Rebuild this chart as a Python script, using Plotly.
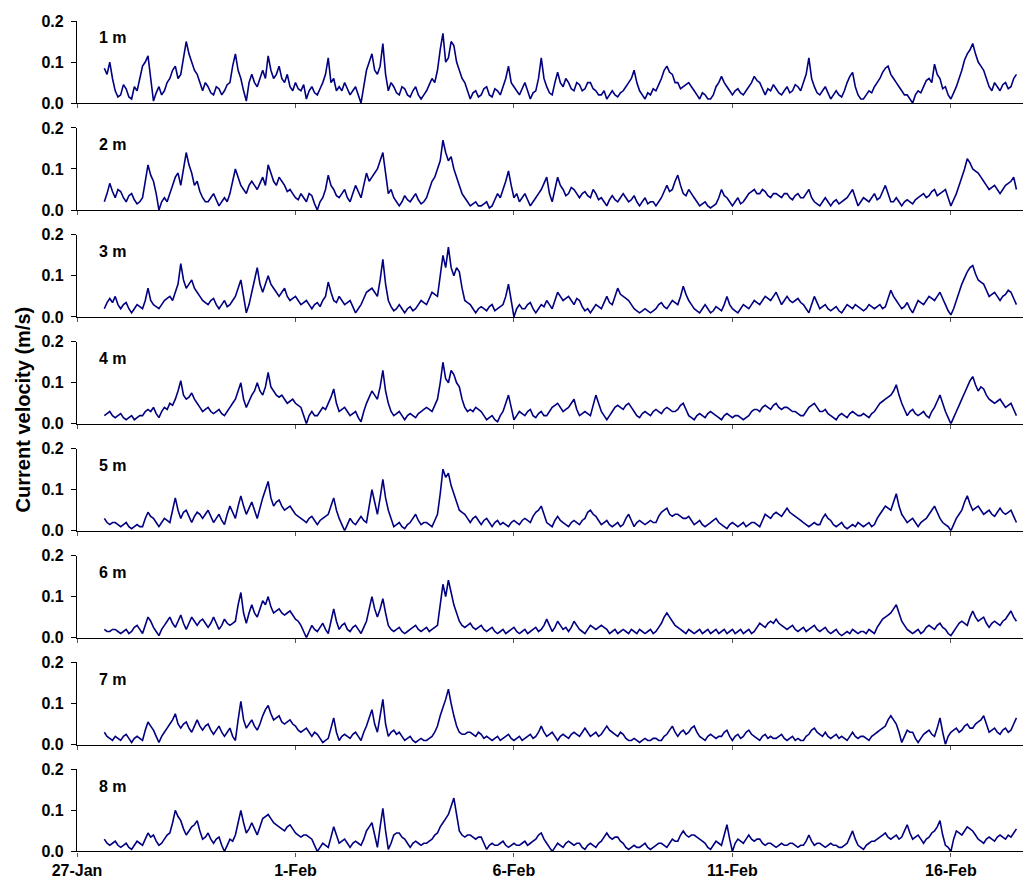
import pandas as pd
import plotly.graph_objects as go

# ---------------- data (readings every 1.5 h, m/s) ----------------
start_time = "2008-01-27 15:00"
step = "90min"
depth_labels = ["1 m", "2 m", "3 m", "4 m", "5 m", "6 m", "7 m", "8 m"]

depth_1m = [
    0.085, 0.07, 0.10, 0.06, 0.03, 0.015,
    0.02, 0.045, 0.035, 0.015, 0.01, 0.04, 0.03, 0.06, 0.09, 0.10, 0.115, 0.06, 0.005, 0.025, 0.04, 0.02,
    0.03, 0.05, 0.06, 0.08, 0.09, 0.06, 0.07, 0.11, 0.15, 0.12, 0.10, 0.08, 0.07, 0.05, 0.03, 0.05,
    0.04, 0.025, 0.02, 0.04, 0.035, 0.02, 0.03, 0.045, 0.05, 0.09, 0.12, 0.08, 0.06, 0.03, 0.005, 0.05,
    0.07, 0.05, 0.04, 0.06, 0.08, 0.06, 0.115, 0.08, 0.06, 0.07, 0.09, 0.06, 0.05, 0.07, 0.04, 0.03,
    0.05, 0.035, 0.03, 0.045, 0.01, 0.03, 0.04, 0.025, 0.02, 0.035, 0.05, 0.07, 0.11, 0.05, 0.06, 0.03,
    0.04, 0.03, 0.05, 0.035, 0.02, 0.03, 0.04, 0.02, 0.0, 0.04, 0.08, 0.10, 0.12, 0.08, 0.07, 0.09,
    0.145, 0.07, 0.03, 0.05, 0.04, 0.025, 0.02, 0.04, 0.035, 0.02, 0.015, 0.03, 0.04, 0.02, 0.01, 0.02,
    0.03, 0.045, 0.06, 0.05, 0.08, 0.13, 0.17, 0.10, 0.11, 0.15, 0.14, 0.10, 0.08, 0.06, 0.05, 0.03,
    0.01, 0.025, 0.03, 0.015, 0.02, 0.035, 0.04, 0.02, 0.015, 0.035, 0.03, 0.02, 0.04, 0.06, 0.09, 0.05,
    0.04, 0.03, 0.02, 0.035, 0.05, 0.03, 0.01, 0.025, 0.03, 0.06, 0.11, 0.06, 0.04, 0.025, 0.02, 0.05,
    0.075, 0.05, 0.04, 0.06, 0.05, 0.035, 0.03, 0.05, 0.045, 0.03, 0.035, 0.05, 0.05, 0.035, 0.03, 0.02,
    0.02, 0.03, 0.01, 0.02, 0.03, 0.02, 0.015, 0.025, 0.03, 0.04, 0.05, 0.06, 0.08, 0.05, 0.03, 0.02,
    0.01, 0.025, 0.02, 0.035, 0.03, 0.045, 0.06, 0.08, 0.09, 0.075, 0.07, 0.05, 0.05, 0.035, 0.04, 0.045,
    0.05, 0.04, 0.03, 0.02, 0.01, 0.025, 0.02, 0.01, 0.01, 0.02, 0.04, 0.05, 0.065, 0.05, 0.04, 0.03,
    0.02, 0.03, 0.035, 0.025, 0.02, 0.03, 0.04, 0.05, 0.065, 0.055, 0.05, 0.035, 0.02, 0.035, 0.03, 0.045,
    0.035, 0.025, 0.02, 0.03, 0.04, 0.025, 0.03, 0.045, 0.04, 0.03, 0.05, 0.07, 0.11, 0.06, 0.04, 0.025,
    0.02, 0.03, 0.04, 0.025, 0.01, 0.02, 0.03, 0.02, 0.015, 0.03, 0.05, 0.065, 0.075, 0.04, 0.02, 0.01,
    0.01, 0.02, 0.03, 0.025, 0.04, 0.05, 0.06, 0.075, 0.085, 0.09, 0.07, 0.06, 0.05, 0.04, 0.03, 0.02,
    0.02, 0.01, 0.0, 0.02, 0.03, 0.025, 0.04, 0.055, 0.06, 0.05, 0.095, 0.07, 0.06, 0.035, 0.04, 0.02,
    0.01, 0.025, 0.04, 0.06, 0.08, 0.105, 0.12, 0.13, 0.145, 0.12, 0.10, 0.09, 0.08, 0.06, 0.04, 0.03,
    0.05, 0.04, 0.03, 0.045, 0.05, 0.035, 0.04, 0.06, 0.07,
]

depth_2m = [
    0.02, 0.04, 0.065, 0.045, 0.03, 0.05,
    0.045, 0.03, 0.02, 0.035, 0.04, 0.025, 0.015, 0.02, 0.03, 0.07, 0.11, 0.085, 0.07, 0.04, 0.0, 0.02,
    0.03, 0.02, 0.04, 0.06, 0.08, 0.09, 0.06, 0.10, 0.14, 0.11, 0.09, 0.06, 0.07, 0.045, 0.03, 0.02,
    0.02, 0.03, 0.04, 0.025, 0.01, 0.02, 0.03, 0.02, 0.04, 0.07, 0.10, 0.08, 0.06, 0.05, 0.04, 0.06,
    0.07, 0.06, 0.05, 0.065, 0.08, 0.06, 0.11, 0.09, 0.07, 0.06, 0.08, 0.07, 0.06, 0.045, 0.05, 0.04,
    0.03, 0.025, 0.04, 0.03, 0.02, 0.04, 0.035, 0.015, 0.0, 0.02, 0.03, 0.05, 0.085, 0.06, 0.05, 0.035,
    0.03, 0.04, 0.05, 0.03, 0.02, 0.04, 0.06, 0.045, 0.03, 0.06, 0.09, 0.07, 0.08, 0.09, 0.10, 0.12,
    0.14, 0.09, 0.04, 0.05, 0.03, 0.02, 0.01, 0.02, 0.035, 0.025, 0.02, 0.03, 0.04, 0.025, 0.015, 0.02,
    0.03, 0.05, 0.07, 0.08, 0.10, 0.12, 0.17, 0.14, 0.12, 0.13, 0.10, 0.08, 0.06, 0.04, 0.03, 0.02,
    0.01, 0.015, 0.02, 0.01, 0.01, 0.015, 0.02, 0.005, 0.01, 0.025, 0.04, 0.03, 0.05, 0.07, 0.095, 0.06,
    0.03, 0.04, 0.02, 0.03, 0.04, 0.025, 0.01, 0.02, 0.03, 0.04, 0.05, 0.065, 0.08, 0.04, 0.02, 0.05,
    0.08, 0.06, 0.05, 0.035, 0.04, 0.055, 0.05, 0.04, 0.03, 0.04, 0.045, 0.035, 0.03, 0.05, 0.04, 0.025,
    0.03, 0.02, 0.01, 0.025, 0.035, 0.025, 0.02, 0.03, 0.04, 0.03, 0.02, 0.025, 0.035, 0.02, 0.01, 0.02,
    0.03, 0.015, 0.02, 0.02, 0.01, 0.02, 0.03, 0.045, 0.06, 0.045, 0.05, 0.07, 0.085, 0.06, 0.04, 0.035,
    0.05, 0.04, 0.03, 0.02, 0.01, 0.015, 0.02, 0.01, 0.005, 0.01, 0.015, 0.03, 0.05, 0.035, 0.03, 0.02,
    0.01, 0.02, 0.03, 0.015, 0.02, 0.03, 0.04, 0.045, 0.05, 0.04, 0.04, 0.05, 0.045, 0.035, 0.03, 0.04,
    0.04, 0.035, 0.03, 0.04, 0.04, 0.03, 0.025, 0.035, 0.04, 0.03, 0.03, 0.04, 0.05, 0.03, 0.02, 0.015,
    0.01, 0.02, 0.03, 0.02, 0.01, 0.02, 0.025, 0.015, 0.02, 0.025, 0.03, 0.04, 0.05, 0.03, 0.01, 0.02,
    0.03, 0.025, 0.02, 0.03, 0.04, 0.025, 0.03, 0.045, 0.06, 0.04, 0.02, 0.02, 0.03, 0.02, 0.01, 0.02,
    0.025, 0.02, 0.015, 0.025, 0.03, 0.035, 0.04, 0.03, 0.035, 0.045, 0.05, 0.035, 0.04, 0.045, 0.05, 0.03,
    0.01, 0.025, 0.04, 0.06, 0.08, 0.10, 0.125, 0.115, 0.10, 0.095, 0.09, 0.08, 0.07, 0.06, 0.05, 0.055,
    0.06, 0.05, 0.04, 0.05, 0.06, 0.065, 0.07, 0.08, 0.05,
]

depth_3m = [
    0.02, 0.035, 0.045, 0.035, 0.05, 0.03,
    0.02, 0.03, 0.035, 0.02, 0.01, 0.02, 0.03, 0.025, 0.02, 0.04, 0.07, 0.04, 0.03, 0.025, 0.02, 0.03,
    0.04, 0.045, 0.05, 0.04, 0.06, 0.08, 0.13, 0.09, 0.07, 0.08, 0.09, 0.07, 0.06, 0.05, 0.04, 0.035,
    0.03, 0.04, 0.045, 0.03, 0.02, 0.03, 0.04, 0.025, 0.03, 0.04, 0.05, 0.07, 0.09, 0.05, 0.01, 0.03,
    0.06, 0.09, 0.12, 0.08, 0.06, 0.08, 0.10, 0.08, 0.07, 0.06, 0.05, 0.06, 0.07, 0.05, 0.04, 0.045,
    0.05, 0.04, 0.03, 0.035, 0.04, 0.03, 0.02, 0.03, 0.035, 0.025, 0.04, 0.05, 0.085, 0.06, 0.04, 0.035,
    0.05, 0.04, 0.03, 0.035, 0.04, 0.025, 0.01, 0.02, 0.03, 0.045, 0.06, 0.065, 0.07, 0.06, 0.05, 0.09,
    0.14, 0.08, 0.04, 0.025, 0.015, 0.02, 0.03, 0.02, 0.01, 0.02, 0.025, 0.015, 0.02, 0.03, 0.04, 0.035,
    0.03, 0.045, 0.06, 0.055, 0.05, 0.10, 0.15, 0.12, 0.17, 0.12, 0.10, 0.12, 0.11, 0.07, 0.04, 0.035,
    0.03, 0.02, 0.01, 0.02, 0.025, 0.02, 0.015, 0.025, 0.03, 0.015, 0.02, 0.025, 0.03, 0.05, 0.08, 0.04,
    0.0, 0.02, 0.03, 0.02, 0.02, 0.03, 0.035, 0.02, 0.01, 0.02, 0.03, 0.025, 0.04, 0.03, 0.02, 0.04,
    0.06, 0.05, 0.04, 0.045, 0.05, 0.04, 0.03, 0.045, 0.04, 0.025, 0.015, 0.02, 0.01, 0.02, 0.03, 0.025,
    0.02, 0.035, 0.05, 0.035, 0.03, 0.05, 0.07, 0.055, 0.05, 0.045, 0.04, 0.03, 0.02, 0.015, 0.01, 0.015,
    0.02, 0.015, 0.01, 0.015, 0.02, 0.03, 0.035, 0.025, 0.02, 0.03, 0.04, 0.035, 0.03, 0.05, 0.075, 0.055,
    0.04, 0.03, 0.02, 0.015, 0.01, 0.02, 0.03, 0.02, 0.01, 0.015, 0.025, 0.02, 0.015, 0.03, 0.05, 0.03,
    0.02, 0.015, 0.01, 0.02, 0.03, 0.025, 0.02, 0.03, 0.04, 0.035, 0.03, 0.04, 0.05, 0.045, 0.04, 0.05,
    0.06, 0.045, 0.03, 0.04, 0.05, 0.04, 0.035, 0.04, 0.045, 0.035, 0.03, 0.02, 0.01, 0.03, 0.05, 0.035,
    0.02, 0.025, 0.03, 0.02, 0.015, 0.02, 0.025, 0.015, 0.01, 0.02, 0.03, 0.025, 0.02, 0.03, 0.025, 0.02,
    0.015, 0.02, 0.03, 0.025, 0.02, 0.025, 0.03, 0.02, 0.025, 0.045, 0.065, 0.05, 0.04, 0.03, 0.02, 0.025,
    0.035, 0.02, 0.01, 0.025, 0.04, 0.035, 0.03, 0.04, 0.05, 0.045, 0.04, 0.05, 0.06, 0.045, 0.03, 0.015,
    0.005, 0.02, 0.04, 0.06, 0.08, 0.095, 0.11, 0.12, 0.125, 0.105, 0.09, 0.085, 0.08, 0.065, 0.05, 0.055,
    0.06, 0.05, 0.04, 0.05, 0.055, 0.065, 0.06, 0.045, 0.03,
]

depth_4m = [
    0.02, 0.025, 0.03, 0.02, 0.015, 0.02,
    0.025, 0.015, 0.01, 0.015, 0.02, 0.01, 0.015, 0.02, 0.02, 0.03, 0.035, 0.03, 0.04, 0.025, 0.015, 0.03,
    0.04, 0.035, 0.05, 0.045, 0.06, 0.08, 0.105, 0.07, 0.06, 0.065, 0.075, 0.06, 0.05, 0.04, 0.03, 0.035,
    0.04, 0.03, 0.025, 0.03, 0.035, 0.025, 0.02, 0.03, 0.04, 0.05, 0.06, 0.08, 0.10, 0.06, 0.04, 0.055,
    0.07, 0.08, 0.10, 0.08, 0.07, 0.09, 0.125, 0.09, 0.08, 0.07, 0.065, 0.07, 0.06, 0.05, 0.055, 0.06,
    0.05, 0.045, 0.04, 0.02, 0.0, 0.02, 0.03, 0.02, 0.02, 0.03, 0.04, 0.035, 0.05, 0.065, 0.085, 0.05,
    0.03, 0.035, 0.04, 0.03, 0.02, 0.025, 0.03, 0.015, 0.005, 0.03, 0.05, 0.065, 0.08, 0.07, 0.06, 0.09,
    0.13, 0.08, 0.05, 0.03, 0.02, 0.025, 0.03, 0.02, 0.01, 0.02, 0.025, 0.02, 0.015, 0.025, 0.03, 0.035,
    0.04, 0.035, 0.03, 0.045, 0.06, 0.10, 0.15, 0.11, 0.10, 0.13, 0.12, 0.10, 0.09, 0.06, 0.04, 0.03,
    0.035, 0.03, 0.04, 0.035, 0.03, 0.02, 0.01, 0.015, 0.02, 0.01, 0.005, 0.02, 0.03, 0.05, 0.07, 0.04,
    0.01, 0.02, 0.03, 0.025, 0.02, 0.03, 0.035, 0.02, 0.015, 0.025, 0.03, 0.02, 0.02, 0.03, 0.04, 0.045,
    0.05, 0.04, 0.03, 0.035, 0.04, 0.05, 0.06, 0.035, 0.02, 0.025, 0.03, 0.025, 0.02, 0.045, 0.07, 0.05,
    0.03, 0.02, 0.01, 0.02, 0.03, 0.04, 0.045, 0.04, 0.035, 0.045, 0.05, 0.04, 0.03, 0.02, 0.015, 0.025,
    0.03, 0.025, 0.02, 0.03, 0.035, 0.03, 0.025, 0.035, 0.04, 0.035, 0.03, 0.03, 0.035, 0.045, 0.05, 0.035,
    0.02, 0.015, 0.01, 0.02, 0.025, 0.02, 0.015, 0.025, 0.03, 0.025, 0.02, 0.015, 0.01, 0.02, 0.025, 0.02,
    0.015, 0.02, 0.02, 0.015, 0.01, 0.015, 0.02, 0.03, 0.035, 0.035, 0.03, 0.04, 0.045, 0.04, 0.035, 0.045,
    0.05, 0.04, 0.035, 0.04, 0.04, 0.035, 0.03, 0.03, 0.025, 0.02, 0.02, 0.03, 0.04, 0.045, 0.05, 0.04,
    0.03, 0.03, 0.035, 0.025, 0.02, 0.015, 0.01, 0.02, 0.025, 0.02, 0.015, 0.025, 0.03, 0.025, 0.02, 0.02,
    0.025, 0.02, 0.015, 0.025, 0.03, 0.04, 0.05, 0.055, 0.06, 0.065, 0.07, 0.08, 0.095, 0.07, 0.05, 0.035,
    0.02, 0.03, 0.035, 0.025, 0.02, 0.025, 0.03, 0.02, 0.015, 0.03, 0.04, 0.055, 0.07, 0.05, 0.03, 0.015,
    0.0, 0.015, 0.03, 0.045, 0.06, 0.075, 0.09, 0.105, 0.115, 0.095, 0.08, 0.09, 0.085, 0.07, 0.06, 0.055,
    0.05, 0.055, 0.06, 0.05, 0.04, 0.045, 0.05, 0.035, 0.02,
]

depth_5m = [
    0.03, 0.02, 0.015, 0.02, 0.02, 0.015,
    0.01, 0.015, 0.02, 0.01, 0.005, 0.01, 0.015, 0.01, 0.01, 0.03, 0.045, 0.035, 0.03, 0.02, 0.01, 0.02,
    0.03, 0.025, 0.02, 0.05, 0.08, 0.05, 0.03, 0.045, 0.05, 0.035, 0.02, 0.035, 0.045, 0.04, 0.03, 0.04,
    0.05, 0.035, 0.02, 0.03, 0.04, 0.025, 0.015, 0.04, 0.06, 0.045, 0.03, 0.06, 0.085, 0.06, 0.04, 0.055,
    0.07, 0.05, 0.03, 0.055, 0.08, 0.10, 0.12, 0.08, 0.06, 0.07, 0.075, 0.06, 0.05, 0.055, 0.06, 0.05,
    0.04, 0.035, 0.03, 0.025, 0.02, 0.03, 0.035, 0.025, 0.015, 0.025, 0.03, 0.035, 0.04, 0.06, 0.08, 0.05,
    0.03, 0.015, 0.0, 0.015, 0.03, 0.02, 0.015, 0.025, 0.035, 0.025, 0.02, 0.06, 0.10, 0.07, 0.04, 0.08,
    0.125, 0.08, 0.05, 0.03, 0.01, 0.015, 0.02, 0.01, 0.005, 0.015, 0.02, 0.03, 0.04, 0.025, 0.015, 0.02,
    0.02, 0.015, 0.01, 0.025, 0.04, 0.09, 0.15, 0.13, 0.14, 0.11, 0.09, 0.07, 0.05, 0.045, 0.04, 0.03,
    0.02, 0.03, 0.035, 0.025, 0.015, 0.025, 0.03, 0.02, 0.01, 0.02, 0.025, 0.015, 0.02, 0.015, 0.01, 0.02,
    0.025, 0.02, 0.015, 0.025, 0.03, 0.025, 0.02, 0.035, 0.045, 0.05, 0.06, 0.04, 0.02, 0.015, 0.01, 0.025,
    0.035, 0.025, 0.02, 0.015, 0.01, 0.02, 0.025, 0.02, 0.015, 0.025, 0.03, 0.045, 0.05, 0.04, 0.035, 0.025,
    0.015, 0.02, 0.025, 0.015, 0.01, 0.015, 0.02, 0.01, 0.015, 0.03, 0.04, 0.025, 0.01, 0.02, 0.025, 0.02,
    0.015, 0.02, 0.025, 0.02, 0.02, 0.035, 0.045, 0.05, 0.055, 0.04, 0.035, 0.04, 0.04, 0.035, 0.03, 0.03,
    0.035, 0.025, 0.015, 0.02, 0.025, 0.015, 0.01, 0.015, 0.02, 0.025, 0.03, 0.02, 0.015, 0.01, 0.005, 0.015,
    0.02, 0.015, 0.01, 0.015, 0.02, 0.01, 0.015, 0.02, 0.02, 0.015, 0.01, 0.025, 0.04, 0.035, 0.03, 0.04,
    0.045, 0.04, 0.035, 0.045, 0.055, 0.045, 0.04, 0.035, 0.03, 0.025, 0.02, 0.015, 0.01, 0.015, 0.02, 0.015,
    0.015, 0.03, 0.04, 0.03, 0.025, 0.015, 0.01, 0.015, 0.02, 0.01, 0.005, 0.01, 0.015, 0.01, 0.02, 0.015,
    0.01, 0.015, 0.02, 0.01, 0.015, 0.03, 0.04, 0.05, 0.06, 0.055, 0.05, 0.07, 0.09, 0.06, 0.04, 0.03,
    0.02, 0.025, 0.03, 0.02, 0.01, 0.02, 0.025, 0.03, 0.04, 0.05, 0.06, 0.045, 0.03, 0.02, 0.015, 0.01,
    0.0, 0.015, 0.03, 0.04, 0.05, 0.07, 0.085, 0.065, 0.05, 0.055, 0.06, 0.05, 0.04, 0.045, 0.05, 0.04,
    0.035, 0.045, 0.055, 0.045, 0.04, 0.045, 0.05, 0.035, 0.02,
]

depth_6m = [
    0.02, 0.015, 0.015, 0.02, 0.02, 0.015,
    0.01, 0.015, 0.02, 0.01, 0.015, 0.025, 0.03, 0.02, 0.01, 0.03, 0.05, 0.04, 0.025, 0.015, 0.005, 0.02,
    0.03, 0.04, 0.05, 0.035, 0.025, 0.04, 0.055, 0.035, 0.02, 0.035, 0.05, 0.04, 0.03, 0.04, 0.045, 0.035,
    0.025, 0.035, 0.05, 0.035, 0.02, 0.03, 0.045, 0.035, 0.03, 0.035, 0.04, 0.08, 0.11, 0.06, 0.035, 0.06,
    0.08, 0.06, 0.05, 0.07, 0.09, 0.08, 0.10, 0.075, 0.06, 0.065, 0.07, 0.06, 0.055, 0.06, 0.065, 0.055,
    0.045, 0.04, 0.03, 0.015, 0.0, 0.015, 0.03, 0.02, 0.015, 0.025, 0.035, 0.02, 0.01, 0.04, 0.07, 0.04,
    0.02, 0.03, 0.035, 0.02, 0.015, 0.025, 0.03, 0.02, 0.01, 0.025, 0.04, 0.07, 0.10, 0.07, 0.05, 0.07,
    0.095, 0.06, 0.03, 0.02, 0.015, 0.02, 0.025, 0.015, 0.01, 0.015, 0.02, 0.025, 0.03, 0.02, 0.015, 0.02,
    0.025, 0.015, 0.02, 0.025, 0.03, 0.08, 0.13, 0.10, 0.14, 0.11, 0.08, 0.06, 0.04, 0.03, 0.025, 0.03,
    0.035, 0.025, 0.02, 0.025, 0.03, 0.02, 0.015, 0.02, 0.025, 0.015, 0.01, 0.015, 0.02, 0.01, 0.015, 0.02,
    0.025, 0.015, 0.01, 0.015, 0.02, 0.01, 0.015, 0.02, 0.025, 0.015, 0.02, 0.03, 0.045, 0.03, 0.015, 0.025,
    0.04, 0.03, 0.02, 0.025, 0.015, 0.025, 0.04, 0.03, 0.02, 0.015, 0.01, 0.02, 0.03, 0.025, 0.02, 0.025,
    0.03, 0.025, 0.02, 0.01, 0.015, 0.02, 0.01, 0.015, 0.02, 0.015, 0.01, 0.02, 0.015, 0.01, 0.02, 0.015,
    0.01, 0.015, 0.02, 0.01, 0.015, 0.025, 0.035, 0.05, 0.06, 0.05, 0.04, 0.03, 0.025, 0.02, 0.015, 0.01,
    0.02, 0.015, 0.01, 0.015, 0.02, 0.01, 0.015, 0.02, 0.01, 0.015, 0.02, 0.01, 0.015, 0.02, 0.01, 0.015,
    0.02, 0.01, 0.015, 0.02, 0.01, 0.015, 0.02, 0.01, 0.015, 0.025, 0.035, 0.03, 0.025, 0.035, 0.04, 0.035,
    0.045, 0.035, 0.03, 0.025, 0.02, 0.025, 0.03, 0.02, 0.015, 0.02, 0.025, 0.015, 0.02, 0.025, 0.03, 0.02,
    0.015, 0.02, 0.025, 0.015, 0.01, 0.015, 0.02, 0.01, 0.005, 0.01, 0.015, 0.01, 0.02, 0.015, 0.01, 0.015,
    0.015, 0.01, 0.02, 0.015, 0.01, 0.025, 0.035, 0.045, 0.05, 0.055, 0.06, 0.07, 0.08, 0.06, 0.04, 0.03,
    0.02, 0.015, 0.01, 0.015, 0.02, 0.01, 0.015, 0.025, 0.03, 0.025, 0.02, 0.03, 0.035, 0.025, 0.02, 0.01,
    0.005, 0.015, 0.025, 0.035, 0.04, 0.035, 0.03, 0.05, 0.065, 0.05, 0.04, 0.045, 0.05, 0.035, 0.025, 0.035,
    0.04, 0.035, 0.03, 0.04, 0.045, 0.055, 0.065, 0.05, 0.04,
]

depth_7m = [
    0.03, 0.02, 0.015, 0.01, 0.02, 0.015,
    0.01, 0.02, 0.025, 0.015, 0.005, 0.015, 0.02, 0.015, 0.01, 0.035, 0.055, 0.045, 0.035, 0.02, 0.005, 0.02,
    0.03, 0.04, 0.05, 0.06, 0.075, 0.05, 0.04, 0.05, 0.055, 0.04, 0.03, 0.045, 0.06, 0.045, 0.035, 0.045,
    0.05, 0.035, 0.025, 0.035, 0.045, 0.03, 0.02, 0.03, 0.04, 0.02, 0.01, 0.06, 0.105, 0.06, 0.04, 0.05,
    0.06, 0.045, 0.035, 0.05, 0.07, 0.085, 0.095, 0.075, 0.06, 0.065, 0.07, 0.055, 0.05, 0.055, 0.06, 0.05,
    0.045, 0.035, 0.03, 0.035, 0.04, 0.03, 0.02, 0.03, 0.025, 0.015, 0.005, 0.01, 0.015, 0.04, 0.065, 0.03,
    0.01, 0.02, 0.025, 0.02, 0.015, 0.025, 0.03, 0.02, 0.01, 0.03, 0.045, 0.065, 0.085, 0.05, 0.03, 0.07,
    0.11, 0.05, 0.02, 0.03, 0.035, 0.025, 0.03, 0.02, 0.01, 0.015, 0.02, 0.01, 0.005, 0.01, 0.015, 0.01,
    0.01, 0.015, 0.02, 0.03, 0.045, 0.07, 0.09, 0.11, 0.135, 0.10, 0.07, 0.045, 0.03, 0.025, 0.025, 0.03,
    0.03, 0.025, 0.02, 0.03, 0.025, 0.015, 0.02, 0.015, 0.01, 0.015, 0.02, 0.01, 0.015, 0.02, 0.025, 0.015,
    0.01, 0.015, 0.02, 0.01, 0.015, 0.02, 0.025, 0.015, 0.02, 0.03, 0.045, 0.03, 0.02, 0.025, 0.03, 0.02,
    0.01, 0.02, 0.025, 0.02, 0.015, 0.025, 0.03, 0.025, 0.02, 0.03, 0.04, 0.03, 0.02, 0.025, 0.03, 0.02,
    0.025, 0.035, 0.045, 0.035, 0.03, 0.025, 0.02, 0.03, 0.025, 0.015, 0.01, 0.01, 0.015, 0.01, 0.005, 0.01,
    0.015, 0.01, 0.01, 0.015, 0.015, 0.01, 0.01, 0.02, 0.025, 0.035, 0.045, 0.03, 0.02, 0.03, 0.035, 0.025,
    0.03, 0.04, 0.045, 0.03, 0.02, 0.015, 0.01, 0.02, 0.025, 0.02, 0.015, 0.02, 0.02, 0.03, 0.035, 0.02,
    0.01, 0.02, 0.025, 0.015, 0.02, 0.03, 0.035, 0.025, 0.02, 0.015, 0.01, 0.02, 0.025, 0.015, 0.02, 0.015,
    0.015, 0.02, 0.025, 0.015, 0.01, 0.015, 0.02, 0.01, 0.015, 0.01, 0.01, 0.02, 0.025, 0.035, 0.04, 0.03,
    0.025, 0.02, 0.03, 0.02, 0.015, 0.02, 0.025, 0.015, 0.02, 0.015, 0.01, 0.02, 0.03, 0.02, 0.015, 0.02,
    0.02, 0.015, 0.01, 0.02, 0.025, 0.03, 0.035, 0.04, 0.045, 0.06, 0.07, 0.06, 0.05, 0.03, 0.005, 0.02,
    0.035, 0.03, 0.03, 0.015, 0.005, 0.015, 0.025, 0.03, 0.035, 0.025, 0.02, 0.04, 0.065, 0.03, 0.0, 0.02,
    0.03, 0.035, 0.04, 0.03, 0.035, 0.045, 0.05, 0.04, 0.04, 0.05, 0.055, 0.06, 0.07, 0.05, 0.03, 0.035,
    0.04, 0.03, 0.025, 0.035, 0.04, 0.03, 0.035, 0.05, 0.065,
]

depth_8m = [
    0.03, 0.02, 0.015, 0.02, 0.025, 0.015,
    0.01, 0.015, 0.02, 0.01, 0.005, 0.015, 0.025, 0.02, 0.015, 0.03, 0.045, 0.035, 0.04, 0.025, 0.015, 0.02,
    0.03, 0.04, 0.045, 0.07, 0.10, 0.085, 0.075, 0.055, 0.04, 0.05, 0.06, 0.065, 0.075, 0.05, 0.03, 0.035,
    0.045, 0.03, 0.02, 0.03, 0.035, 0.015, 0.0, 0.015, 0.03, 0.025, 0.04, 0.07, 0.10, 0.07, 0.045, 0.055,
    0.07, 0.055, 0.04, 0.06, 0.08, 0.085, 0.09, 0.08, 0.07, 0.065, 0.06, 0.055, 0.05, 0.06, 0.065, 0.055,
    0.045, 0.04, 0.035, 0.04, 0.04, 0.035, 0.03, 0.015, 0.0, 0.01, 0.02, 0.015, 0.01, 0.035, 0.06, 0.04,
    0.02, 0.025, 0.03, 0.02, 0.01, 0.02, 0.025, 0.02, 0.015, 0.03, 0.05, 0.06, 0.07, 0.04, 0.01, 0.06,
    0.105, 0.05, 0.005, 0.02, 0.04, 0.045, 0.045, 0.035, 0.03, 0.02, 0.01, 0.02, 0.025, 0.02, 0.015, 0.02,
    0.02, 0.025, 0.03, 0.04, 0.045, 0.06, 0.07, 0.08, 0.09, 0.11, 0.13, 0.09, 0.05, 0.04, 0.035, 0.04,
    0.04, 0.035, 0.03, 0.035, 0.035, 0.02, 0.005, 0.015, 0.02, 0.015, 0.015, 0.02, 0.025, 0.015, 0.01, 0.015,
    0.02, 0.015, 0.015, 0.02, 0.025, 0.015, 0.02, 0.025, 0.03, 0.04, 0.045, 0.03, 0.02, 0.01, 0.0, 0.01,
    0.02, 0.015, 0.01, 0.02, 0.025, 0.02, 0.015, 0.02, 0.02, 0.01, 0.005, 0.015, 0.02, 0.015, 0.01, 0.02,
    0.025, 0.035, 0.045, 0.035, 0.03, 0.035, 0.035, 0.025, 0.02, 0.01, 0.005, 0.01, 0.015, 0.01, 0.01, 0.015,
    0.02, 0.01, 0.005, 0.01, 0.015, 0.02, 0.02, 0.015, 0.01, 0.02, 0.03, 0.025, 0.025, 0.04, 0.05, 0.04,
    0.035, 0.04, 0.04, 0.035, 0.03, 0.025, 0.02, 0.01, 0.005, 0.015, 0.025, 0.02, 0.015, 0.04, 0.065, 0.03,
    0.0, 0.02, 0.03, 0.025, 0.02, 0.03, 0.04, 0.03, 0.025, 0.03, 0.03, 0.02, 0.015, 0.02, 0.02, 0.015,
    0.01, 0.015, 0.02, 0.015, 0.015, 0.02, 0.02, 0.015, 0.01, 0.015, 0.015, 0.025, 0.04, 0.025, 0.015, 0.02,
    0.02, 0.015, 0.01, 0.015, 0.02, 0.015, 0.015, 0.01, 0.01, 0.015, 0.02, 0.035, 0.05, 0.03, 0.015, 0.01,
    0.005, 0.015, 0.02, 0.025, 0.025, 0.03, 0.035, 0.04, 0.045, 0.035, 0.03, 0.035, 0.04, 0.03, 0.035, 0.05,
    0.065, 0.045, 0.03, 0.035, 0.04, 0.03, 0.02, 0.03, 0.035, 0.045, 0.05, 0.06, 0.075, 0.04, 0.015, 0.01,
    0.0, 0.03, 0.05, 0.045, 0.04, 0.05, 0.06, 0.055, 0.05, 0.04, 0.03, 0.025, 0.02, 0.03, 0.035, 0.03,
    0.025, 0.035, 0.04, 0.035, 0.03, 0.04, 0.035, 0.045, 0.055,
]

series = [depth_1m, depth_2m, depth_3m, depth_4m,
          depth_5m, depth_6m, depth_7m, depth_8m]

tick_dates = ["2008-01-27", "2008-02-01", "2008-02-06", "2008-02-11", "2008-02-16"]
tick_labels = ["27-Jan", "1-Feb", "6-Feb", "11-Feb", "16-Feb"]
y_ticks = [0.0, 0.1, 0.2]
y_tick_labels = ["0.0", "0.1", "0.2"]
y_title = "Current velocity (m/s)"

# ---------------- layout geometry ----------------
# the page has an 8px body margin, so the figure is sized/offset to compensate
OFF = 8
W, H = 1031 - OFF, 879 - OFF
M_L, M_R, M_T, M_B = 77 - OFF, 0, 21 - OFF, 15
plot_h = H - M_T - M_B
plot_w = W - M_L - M_R
panel_px = 83.3
pitch_px = 108.45
FONT = "Liberation Sans, Arial, sans-serif"
LINE_COLOR = "#000080"

def to_paper_y(ypx):
    return (H - M_B - ypx) / plot_h

def to_paper_x(xpx):
    return (xpx - M_L) / plot_w

fig = go.Figure()
layout = dict(
    width=W, height=H,
    margin=dict(l=M_L, r=M_R, t=M_T, b=M_B, pad=0),
    paper_bgcolor="white", plot_bgcolor="white",
    showlegend=False,
    font=dict(family=FONT, size=16, color="black"),
)

annotations = []
n = len(series)
for i, vals in enumerate(series):
    times = pd.date_range(start_time, periods=len(vals), freq=step)
    k = i + 1
    xa = "x" if k == 1 else f"x{k}"
    ya = "y" if k == 1 else f"y{k}"
    fig.add_trace(go.Scatter(
        x=times, y=vals, mode="lines", xaxis=xa, yaxis=ya,
        line=dict(color=LINE_COLOR, width=1.6, simplify=False),
        hoverinfo="skip",
    ))
    top_px = M_T + i * pitch_px
    bot_px = top_px + panel_px
    dom = [to_paper_y(bot_px), to_paper_y(top_px)]
    xkey = "xaxis" if k == 1 else f"xaxis{k}"
    ykey = "yaxis" if k == 1 else f"yaxis{k}"
    layout[xkey] = dict(
        anchor=ya, domain=[0, 1],
        range=["2008-01-27 00:00", "2008-02-17 20:00"],
        type="date",
        showline=True, linecolor="black", linewidth=1.3,
        showgrid=False, zeroline=False,
        ticks="outside", ticklen=4, tickwidth=1, tickcolor="#555",
        tickvals=tick_dates, ticktext=tick_labels,
        showticklabels=(k == n),
        tickfont=dict(family=FONT, size=16, color="black", weight="bold"),
        fixedrange=True,
    )
    layout[ykey] = dict(
        anchor=xa, domain=dom,
        range=[0, 0.2],
        showline=True, linecolor="black", linewidth=1.3,
        showgrid=False, zeroline=False,
        ticks="outside", ticklen=5, tickwidth=1, tickcolor="black",
        tickvals=y_ticks, ticktext=y_tick_labels,
        tickfont=dict(family=FONT, size=16, color="black", weight="bold"),
        ticklabelstandoff=4,
        fixedrange=True,
    )
    annotations.append(dict(
        xref="paper", yref="paper",
        x=to_paper_x(97 - OFF), y=to_paper_y(top_px + 17),
        xanchor="left", yanchor="middle",
        text=depth_labels[i], showarrow=False,
        font=dict(family=FONT, size=16, color="black", weight="bold"),
    ))

annotations.append(dict(
    xref="paper", yref="paper",
    x=to_paper_x(23 - OFF), y=to_paper_y(415 - OFF),
    xanchor="center", yanchor="middle",
    text=y_title, textangle=-90, showarrow=False,
    font=dict(family=FONT, size=20, color="black", weight="bold"),
))
layout["annotations"] = annotations
fig.update_layout(**layout)

fig.write_html("out.html", config={"displayModeBar": False})
